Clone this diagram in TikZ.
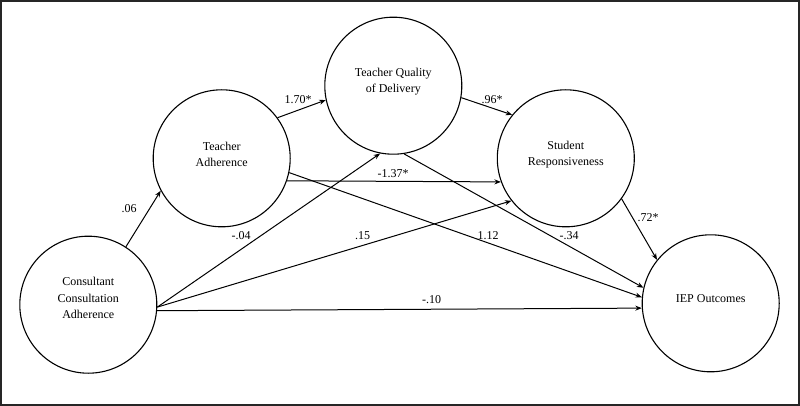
\documentclass[tikz,border=0pt]{standalone}
\usepackage{fontspec}
\setmainfont{Liberation Serif}
\usetikzlibrary{arrows.meta}
\begin{document}
\begin{tikzpicture}[x=1pt,y=-1pt,
  latent/.style={circle,draw=black,line width=1.1pt,minimum size=137pt,inner sep=0pt},
  vtext/.style={align=center,font=\fontsize{12}{16.3}\selectfont,inner sep=0pt},
  path/.style={draw=black,line width=1pt,-{Stealth[length=6.5pt,width=5pt]}},
  coef/.style={font=\fontsize{12}{14}\selectfont,inner sep=0pt}]
\useasboundingbox (0,0) rectangle (800,406);
\draw[line width=2pt,draw=black!85] (1,1) rectangle (798.5,404.5);

% circles
\node[latent] (cca) at (88.3,304.7) {};
\node[latent] (ta)  at (221.7,158.3) {};
\node[latent] (tq)  at (393.3,85.7) {};
\node[latent] (sr)  at (565.8,158.3) {};
\node[latent] (iep) at (710.7,303.3) {};

% texts
\node[vtext] (cca-t) at (88.3,298) {Consultant\\Consultation\\Adherence};
\node[vtext] (ta-t)  at (221.7,154.5) {Teacher\\Adherence};
\node[vtext] (tq-t)  at (393.3,81.5) {Teacher Quality\\of Delivery};
\node[vtext] (sr-t)  at (565.8,154.5) {Student\\Responsiveness};
\node[vtext] (iep-t) at (710.7,298.5) {IEP Outcomes};

% paths
\draw[path] (cca.57.7) -- (ta.208.2);
\draw[path] (ta.36.7) -- (tq.192.3);
\draw[path] (tq.-10.8) -- (sr.141.6);
\draw[path] (ta.-19.6) -- (sr.200.1);
\draw[path] (ta.-12) -- (iep.175.9);
\draw[path] (tq.-81.6) -- (iep.167.7);
\draw[path] (sr.-36.7) -- (iep.141.9);
\draw[path] (cca.-2) -- (tq.259.1);
\draw[path] (cca.-2) -- (sr.218.1);
\draw[path] (cca.-5.7) -- (iep.184.1);

% coefficients
\node[coef] (c1) at (129,209) {.06};
\node[coef] (c2) at (298,100) {1.70*};
\node[coef] (c3) at (492,100) {.96*};
\node[coef] (c4) at (393,174) {-1.37*};
\node[coef] (c5) at (241,236) {-.04};
\node[coef] (c6) at (362.5,236) {.15};
\node[coef] (c7) at (488,236) {1.12};
\node[coef] (c8) at (569,236) {-.34};
\node[coef] (c9) at (648,217.3) {.72*};
\node[coef] (c10) at (431.7,299.3) {-.10};
\end{tikzpicture}
\end{document}
